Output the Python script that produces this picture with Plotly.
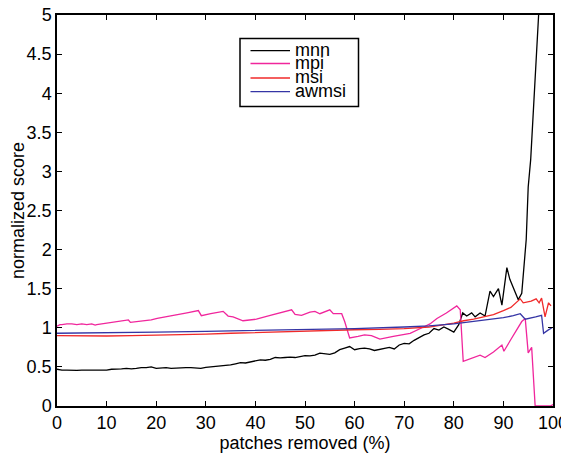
import plotly.graph_objects as go

# mnn
mnn_x = [0,1,2,3,4,5,6,7,8,9,10,11,12,13,14,15,16,17,18,19,20,21,22,23,24,25,26,27,28,29,
         30,31,32,33,34,35,36,37,38,39,40,41,42,43,44,45,46,47,48,49,50,51,52,53,54,55,56,57,58,59,
         60,61,62,63,64,65,66,67,68,69,70,71,72,73,74,75,76,77,78,79,80,81,81.8,82.6,83.6,84.3,85.3,86.3,
         87.3,88,89,89.7,90.7,91.3,92,93,93.7,94,94.6,95,95.5,97.1,98]
mnn_y = [0.47,0.46,0.46,0.455,0.455,0.46,0.46,0.455,0.46,0.46,0.46,0.47,0.47,0.475,0.48,0.475,0.48,0.49,0.49,0.50,
         0.48,0.485,0.49,0.48,0.485,0.49,0.49,0.49,0.485,0.48,0.495,0.50,0.505,0.51,0.52,0.525,0.54,0.555,0.55,0.565,
         0.575,0.59,0.585,0.595,0.62,0.615,0.62,0.625,0.62,0.635,0.645,0.64,0.65,0.675,0.665,0.66,0.68,0.72,0.74,0.76,
         0.72,0.735,0.74,0.73,0.71,0.725,0.74,0.75,0.73,0.78,0.80,0.795,0.84,0.88,0.91,0.93,0.99,0.97,1.01,0.98,
         0.945,1.04,1.19,1.15,1.19,1.14,1.19,1.15,1.47,1.40,1.50,1.29,1.77,1.62,1.51,1.36,1.44,1.71,2.13,2.8,3.15,5.0,6.5]

# mpi
mpi_x = [0,0.6,1,2,3,4,5,6,7,7.7,8,9,10,11,12,13,14.4,14.8,16,17.5,19,20.2,22,24,26.2,28.5,29.1,31,33.5,34.5,
         35.5,37.5,40.2,43,45,47.3,48,49.3,51,52,53,55,55.7,57.4,58,59,60.7,62,63.4,65.1,67.8,71.2,73.9,75.2,
         76.6,78.5,80.6,81.3,81.9,83.5,85.3,86.3,88,89.7,90.1,91.5,93.7,94.4,95,95.7,96.4,99,99.5,100]
mpi_y = [1.02,1.04,1.04,1.05,1.05,1.04,1.05,1.04,1.05,1.035,1.04,1.05,1.06,1.07,1.08,1.09,1.10,1.07,1.08,1.09,
         1.10,1.12,1.14,1.16,1.19,1.22,1.155,1.18,1.21,1.15,1.14,1.09,1.11,1.16,1.19,1.23,1.17,1.16,1.20,1.21,
         1.18,1.23,1.18,1.18,1.08,0.87,0.89,0.91,0.90,0.855,0.89,0.93,1.01,1.05,1.12,1.19,1.28,1.23,0.57,0.61,
         0.65,0.62,0.69,0.78,0.70,0.85,1.08,1.12,0.68,0.75,0.0,0.0,0.0,0.02]

# msi
msi_x = [0,5,10,15,20,25,30,35,40,45,50,55,60,65,70,75,78,80,82,84,86,88,90,91.5,93.4,94,95.6,96.6,97.2,97.7,
         98.4,99.1,99.6]
msi_y = [0.90,0.895,0.895,0.90,0.905,0.91,0.92,0.93,0.94,0.95,0.96,0.97,0.975,0.98,0.99,1.01,1.04,1.06,1.09,1.11,
         1.14,1.17,1.22,1.26,1.37,1.32,1.34,1.37,1.32,1.38,1.14,1.32,1.28]

# awmsi
awmsi_x = [0,10,20,30,40,50,60,70,75,80,82,85,88,90,92,93.4,94.4,95.5,96.5,97.7,98.1,99,99.8]
awmsi_y = [0.93,0.935,0.945,0.955,0.965,0.98,0.99,1.01,1.025,1.05,1.065,1.085,1.11,1.13,1.155,1.18,1.11,1.13,
           1.14,1.16,0.93,0.97,1.0]

series_names = ["mnn", "mpi", "msi", "awmsi"]
series_colors = ["#000000", "#f0269c", "#f02a2a", "#3535a5"]

x_ticks = [0,10,20,30,40,50,60,70,80,90,100]
y_ticks = [0,0.5,1,1.5,2,2.5,3,3.5,4,4.5,5]
y_tick_text = ["0","0.5","1","1.5","2","2.5","3","3.5","4","4.5","5"]

fig = go.Figure()
data = [(mnn_x, mnn_y), (mpi_x, mpi_y), (msi_x, msi_y), (awmsi_x, awmsi_y)]
for name, (xs, ys), col in zip(series_names, data, series_colors):
    fig.add_trace(go.Scatter(x=xs, y=ys, mode="lines", name=name,
                             line=dict(color=col, width=1.3)))

font = "Liberation Sans, Arial, Helvetica, sans-serif"
OFF = 8  # page body margin
W, H = 561, 448
ml, mr, mt, mb = 49, 16, 7, 50
pw, ph = W - ml - mr, H - mt - mb

def px(xp):
    return (xp - OFF - ml) / pw

def py(yp):
    return 1 - (yp - OFF - mt) / ph

# manual legend (box, sample lines, labels)
shapes = [dict(type="rect", xref="paper", yref="paper",
               x0=px(240), x1=px(358.5), y0=py(106.5), y1=py(38.5),
               line=dict(color="black", width=1.5), fillcolor="white", layer="above")]
annotations = []
legend_rows = [50.7, 63.5, 78.0, 91.7]
for name, col, yr in zip(series_names, series_colors, legend_rows):
    shapes.append(dict(type="line", xref="paper", yref="paper",
                       x0=px(250.5), x1=px(290), y0=py(yr), y1=py(yr),
                       line=dict(color=col, width=1.3), layer="above"))
    annotations.append(dict(xref="paper", yref="paper", x=px(292.5), y=py(yr - 1),
                            text=name, showarrow=False, xanchor="left", yanchor="middle",
                            font=dict(family=font, size=18, color="black")))

fig.update_layout(
    width=W, height=H,
    margin=dict(l=ml, r=mr, t=mt, b=mb),
    paper_bgcolor="white", plot_bgcolor="white",
    font=dict(family=font, size=18, color="black"),
    showlegend=False,
    shapes=shapes, annotations=annotations,
)
axis_common = dict(showgrid=False, zeroline=False, showline=True, linecolor="black",
                   linewidth=1.5, mirror="ticks", ticks="inside", ticklen=5, automargin=False,
                   ticklabeloverflow="allow",
                   tickcolor="black", tickfont=dict(family=font, size=18, color="black"))
fig.update_xaxes(range=[0, 100], tickvals=x_ticks,
                 title=dict(text="patches removed (%)", standoff=2, font=dict(family=font, size=18)),
                 **axis_common)
fig.update_yaxes(range=[0, 5], tickvals=y_ticks, ticktext=y_tick_text,
                 title=dict(text="normalized score", standoff=4, font=dict(family=font, size=18)),
                 **axis_common)

fig.write_html("out.html")
